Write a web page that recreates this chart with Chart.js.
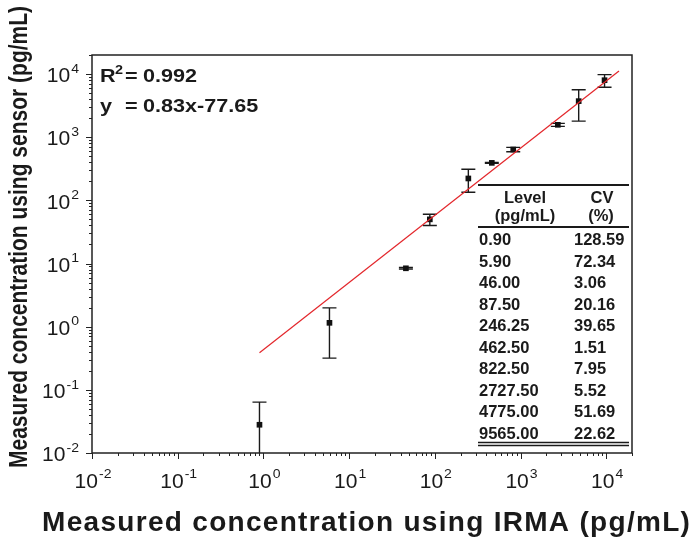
<!DOCTYPE html>
<html lang="en">
<head>
<meta charset="UTF-8">
<title>Sensor vs IRMA</title>
<style>
  html, body { margin: 0; padding: 0; background: #fff; }
  #wrap { width: 693px; height: 537px; }
</style>
<script src="https://cdn.jsdelivr.net/npm/chart.js"></script>
</head>
<body>
<div id="wrap"><canvas id="chart" width="693" height="537"></canvas></div>
<script>
  // levels from the IRMA (pg/mL) and CV (%) - the inset table
  const levels = [0.90, 5.90, 46.00, 87.50, 246.25, 462.50, 822.50, 2727.50, 4775.00, 9565.00];
  const levelLabels = ['0.90', '5.90', '46.00', '87.50', '246.25', '462.50', '822.50', '2727.50', '4775.00', '9565.00'];
  const cvLabels = ['128.59', '72.34', '3.06', '20.16', '39.65', '1.51', '7.95', '5.52', '51.69', '22.62'];
  // mean concentration from the sensor
  const sensorMean = [0.028, 1.15, 8.4, 50, 222, 392, 638, 1570, 3720, 7980];
  // ends of the red fit line
  const fitX = [0.9, 14100];
  const fitY = [0.386, 11200];
  const tickExps = [-2, -1, 0, 1, 2, 3, 4];

  const FONT = '"Liberation Sans", Arial, sans-serif';
  const INK = '#1a1a1a';

  // draw text squeezed/stretched horizontally by sx
  function txt(ctx, s, x, y, font, sx, align) {
    ctx.save();
    ctx.font = font;
    const w = ctx.measureText(s).width * sx;
    const x0 = align === 'center' ? x - w / 2 : (align === 'right' ? x - w : x);
    ctx.translate(x0, y);
    ctx.scale(sx, 1);
    ctx.textAlign = 'left';
    ctx.textBaseline = 'alphabetic';
    ctx.fillStyle = INK;
    ctx.fillText(s, 0, 0);
    ctx.restore();
    return w;
  }

  // letter-spaced text, char by char
  function spaced(ctx, s, x, y, font, gap, align) {
    ctx.save();
    ctx.font = font;
    ctx.fillStyle = INK;
    ctx.textAlign = 'left';
    const ws = [...s].map(c => ctx.measureText(c).width);
    const total = ws.reduce((p, q) => p + q, 0) + gap * (ws.length - 1);
    let cx = align === 'center' ? x - total / 2 : (align === 'right' ? x - total : x);
    [...s].forEach((c, i) => { ctx.fillText(c, cx, y); cx += ws[i] + gap; });
    ctx.restore();
  }

  function powLabel(ctx, exp, x, y, align) {
    const sx = 1.08;
    const f1 = '19.5px ' + FONT, f2 = '13px ' + FONT;
    ctx.font = f1;
    const w1 = ctx.measureText('10').width * sx;
    ctx.font = f2;
    const w2 = ctx.measureText(String(exp)).width * sx;
    const total = w1 + 1 + w2;
    const x0 = align === 'center' ? x - total / 2 : x - total;
    txt(ctx, '10', x0, y, f1, sx, 'left');
    txt(ctx, String(exp), x0 + w1 + 1, y - 9.5, f2, sx, 'left');
  }

  const framePlugin = {
    id: 'frame',
    beforeDatasetsDraw(chart) {
      // error bars = mean +/- mean*CV
      const ctx = chart.ctx, xs = chart.scales.x, ys = chart.scales.y, a = chart.chartArea;
      ctx.save();
      ctx.strokeStyle = INK;
      ctx.lineWidth = 1.4;
      levels.forEach((lv, i) => {
        const m = sensorMean[i];
        const sd = m * parseFloat(cvLabels[i]) / 100;
        const px = xs.getPixelForValue(lv);
        const top = ys.getPixelForValue(m + sd);
        const low = m - sd > 0 ? ys.getPixelForValue(m - sd) : a.bottom;
        ctx.beginPath();
        ctx.moveTo(px, top); ctx.lineTo(px, low);
        ctx.moveTo(px - 7, top); ctx.lineTo(px + 7, top);
        if (m - sd > 0) { ctx.moveTo(px - 7, low); ctx.lineTo(px + 7, low); }
        ctx.stroke();
      });
      ctx.restore();
    },
    afterDraw(chart) {
      const ctx = chart.ctx, xs = chart.scales.x, ys = chart.scales.y, a = chart.chartArea;
      ctx.save();
      ctx.strokeStyle = '#222';
      ctx.lineWidth = 1.5;
      ctx.strokeRect(a.left, a.top, a.right - a.left, a.bottom - a.top);

      // log ticks
      ctx.lineWidth = 1;
      ctx.beginPath();
      tickExps.forEach(e => {
        for (let m = 1; m <= 9; m++) {
          const v = m * Math.pow(10, e);
          const len = m === 1 ? 6 : 3;
          if (v <= xs.max) {
            const px = Math.round(xs.getPixelForValue(v)) + 0.5;
            ctx.moveTo(px, a.bottom); ctx.lineTo(px, a.bottom + len);
          }
          if (v <= ys.max) {
            const py = Math.round(ys.getPixelForValue(v)) + 0.5;
            ctx.moveTo(a.left, py); ctx.lineTo(a.left - len, py);
          }
        }
      });
      ctx.stroke();

      tickExps.forEach(e => {
        const v = Math.pow(10, e);
        powLabel(ctx, e, xs.getPixelForValue(v) + 1, a.bottom + 34.5, 'center');
        powLabel(ctx, e, a.left - 13, ys.getPixelForValue(v) + 8.3, 'right');
      });

      // axis titles
      spaced(ctx, 'Measured concentration using IRMA (pg/mL)', 366, 530.5, 'bold 28px ' + FONT, 1.3, 'center');
      ctx.save();
      ctx.translate(27, 237);
      ctx.rotate(-Math.PI / 2);
      ctx.scale(1, 1.2);
      ctx.font = 'bold 21px ' + FONT;
      ctx.textAlign = 'center';
      ctx.fillStyle = INK;
      ctx.fillText('Measured concentration using sensor (pg/mL)', 0, 0);
      ctx.restore();

      // fit annotation
      const fb = 'bold 18px ' + FONT;
      txt(ctx, 'R', 100, 82, fb, 1.2, 'left');
      txt(ctx, '2', 115, 74, 'bold 12px ' + FONT, 1.2, 'left');
      txt(ctx, '=', 125, 82, fb, 1.2, 'left');
      txt(ctx, '0.992', 143, 82, fb, 1.2, 'left');
      txt(ctx, 'y', 100, 112, fb, 1.2, 'left');
      txt(ctx, '=', 125, 112, fb, 1.2, 'left');
      txt(ctx, '0.83x-77.65', 143, 112, fb, 1.2, 'left');

      // inset table
      const tf = 'bold 16.5px ' + FONT;
      ctx.strokeStyle = INK;
      ctx.lineWidth = 2;
      ctx.beginPath();
      ctx.moveTo(478, 185); ctx.lineTo(629, 185);
      ctx.moveTo(478, 227); ctx.lineTo(629, 227);
      ctx.stroke();
      ctx.lineWidth = 1.3;
      ctx.beginPath();
      ctx.moveTo(478, 442.5); ctx.lineTo(629, 442.5);
      ctx.moveTo(478, 445.5); ctx.lineTo(629, 445.5);
      ctx.stroke();
      txt(ctx, 'Level', 525, 203, tf, 1, 'center');
      txt(ctx, '(pg/mL)', 525, 221, tf, 1, 'center');
      txt(ctx, 'CV', 602, 203, tf, 1, 'center');
      txt(ctx, '(%)', 601, 221, tf, 1, 'center');
      levelLabels.forEach((s, i) => {
        const by = 245 + i * 21.5;
        txt(ctx, s, 479, by, tf, 1, 'left');
        txt(ctx, cvLabels[i], 574, by, tf, 1, 'left');
      });
      ctx.restore();
    }
  };

  const ctx = document.getElementById('chart').getContext('2d');
  const chart = new Chart(ctx, {
    type: 'scatter',
    data: {
      datasets: [{
        label: 'Sensor',
        data: levels.map((x, i) => ({ x: x, y: sensorMean[i] })),
        pointStyle: 'rect',
        pointRadius: 4,
        backgroundColor: '#111',
        borderColor: '#111',
        borderWidth: 0,
        order: 2
      }, {
        label: 'Fit',
        type: 'line',
        data: fitX.map((x, i) => ({ x: x, y: fitY[i] })),
        borderColor: '#e3262b',
        borderWidth: 1.2,
        pointRadius: 0,
        fill: false,
        order: 1
      }]
    },
    options: {
      responsive: false,
      animation: false,
      layout: { padding: { left: 92, top: 55, right: 61, bottom: 84 } },
      plugins: { legend: { display: false }, tooltip: { enabled: false } },
      scales: {
        x: { type: 'logarithmic', min: 0.01, max: 20000, display: false },
        y: { type: 'logarithmic', min: 0.01, max: 20000, display: false }
      }
    },
    plugins: [framePlugin]
  });
</script>
</body>
</html>
